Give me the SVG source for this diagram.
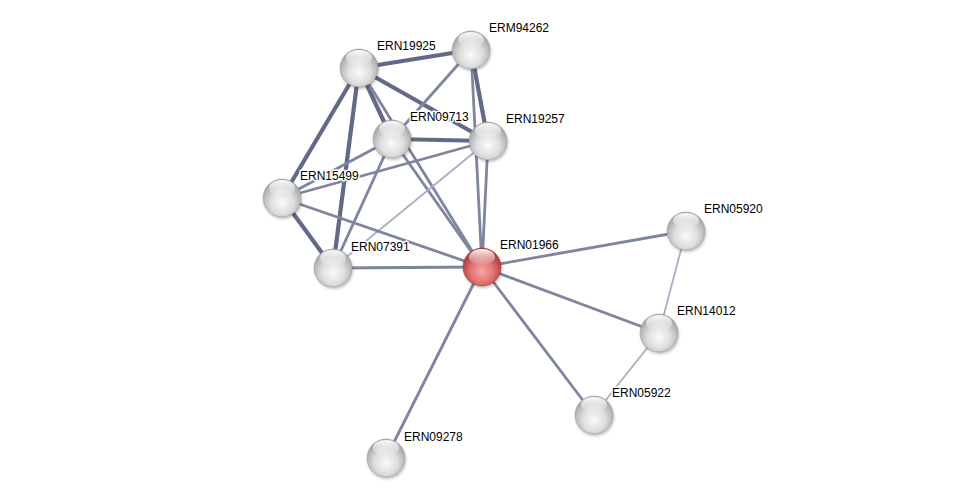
<svg xmlns="http://www.w3.org/2000/svg" width="975" height="504" viewBox="0 0 975 504">
<defs>
<radialGradient id="gray" cx="50%" cy="62%" r="55%">
<stop offset="0" stop-color="#fafafa"/>
<stop offset="0.55" stop-color="#dedede"/>
<stop offset="1" stop-color="#a9a9a9"/>
</radialGradient>
<radialGradient id="red" cx="50%" cy="62%" r="55%">
<stop offset="0" stop-color="#f6a8a8"/>
<stop offset="0.55" stop-color="#e27272"/>
<stop offset="1" stop-color="#b03a3a"/>
</radialGradient>
<linearGradient id="hl" x1="0" y1="0" x2="0" y2="1">
<stop offset="0" stop-color="#ffffff" stop-opacity="0.95"/>
<stop offset="1" stop-color="#ffffff" stop-opacity="0.05"/>
</linearGradient>
<filter id="sh" x="-50%" y="-50%" width="200%" height="200%">
<feGaussianBlur stdDeviation="1.5"/>
</filter>
<g id="ball">
<circle cx="1" cy="2" r="19" fill="#000" opacity="0.25" filter="url(#sh)"/>
<circle r="19" fill="url(#gray)" stroke="#9a9a9a" stroke-width="0.5"/>
<ellipse cx="0" cy="-10" rx="13" ry="8" fill="url(#hl)"/>
</g>
<g id="rball">
<circle cx="1" cy="2" r="19" fill="#000" opacity="0.25" filter="url(#sh)"/>
<circle r="19" fill="url(#red)" stroke="#a03030" stroke-width="0.5"/>
<ellipse cx="0" cy="-10" rx="13" ry="8" fill="url(#hl)"/>
</g>
</defs>
<style>
.e{stroke-linecap:butt;fill:none}
.t{stroke:#626a88;stroke-width:4.2}
.m{stroke:#7e859f;stroke-width:2.8}
.l{stroke:#a8aec2;stroke-width:1.8}
text{font-family:"Liberation Sans",Arial,sans-serif;font-size:12px;fill:#000;stroke:#fff;stroke-width:3;paint-order:stroke;stroke-linejoin:round}
</style>
<rect width="975" height="504" fill="#fff"/>
<g id="edges" class="e">
<line class="t" x1="359" y1="68" x2="471" y2="50"/>
<line class="t" x1="359" y1="68" x2="488" y2="141"/>
<line class="t" x1="359" y1="68" x2="392" y2="139"/>
<line class="t" x1="359" y1="68" x2="282" y2="198"/>
<line class="t" x1="359" y1="68" x2="333" y2="268"/>
<line class="m" x1="359" y1="68" x2="482" y2="267"/>
<line class="m" x1="471" y1="50" x2="392" y2="139"/>
<line class="t" x1="471" y1="50" x2="488" y2="141"/>
<line class="m" x1="471" y1="50" x2="482" y2="267"/>
<line class="t" x1="392" y1="139" x2="488" y2="141"/>
<line class="m" x1="392" y1="139" x2="282" y2="198"/>
<line class="m" x1="392" y1="139" x2="333" y2="268"/>
<line class="m" x1="392" y1="139" x2="482" y2="267"/>
<line class="m" x1="488" y1="141" x2="282" y2="198"/>
<line class="l" x1="488" y1="141" x2="333" y2="268"/>
<line class="m" x1="488" y1="141" x2="482" y2="267"/>
<line class="t" x1="282" y1="198" x2="333" y2="268"/>
<line class="m" x1="282" y1="198" x2="482" y2="267"/>
<line class="m" x1="333" y1="268" x2="482" y2="267"/>
<line class="m" x1="482" y1="267" x2="686" y2="231"/>
<line class="m" x1="482" y1="267" x2="659" y2="333"/>
<line class="m" x1="482" y1="267" x2="594" y2="415"/>
<line class="m" x1="482" y1="267" x2="386" y2="458"/>
<line class="l" x1="686" y1="231" x2="659" y2="333"/>
<line class="l" x1="659" y1="333" x2="594" y2="415"/>
</g>
<g id="ERN19925"><use href="#ball" x="359" y="68"/><text x="377" y="50">ERN19925</text></g>
<g id="ERM94262"><use href="#ball" x="471" y="50"/><text x="489" y="32">ERM94262</text></g>
<g id="ERN09713"><use href="#ball" x="392" y="139"/><text x="410" y="121">ERN09713</text></g>
<g id="ERN19257"><use href="#ball" x="488" y="141"/><text x="506" y="123">ERN19257</text></g>
<g id="ERN15499"><use href="#ball" x="282" y="198"/><text x="300" y="180">ERN15499</text></g>
<g id="ERN07391"><use href="#ball" x="333" y="268"/><text x="351" y="251">ERN07391</text></g>
<g id="ERN01966"><use href="#rball" x="482" y="267"/><text x="500" y="249">ERN01966</text></g>
<g id="ERN05920"><use href="#ball" x="686" y="231"/><text x="704" y="213">ERN05920</text></g>
<g id="ERN14012"><use href="#ball" x="659" y="333"/><text x="677" y="315">ERN14012</text></g>
<g id="ERN05922"><use href="#ball" x="594" y="415"/><text x="612" y="397">ERN05922</text></g>
<g id="ERN09278"><use href="#ball" x="386" y="458"/><text x="404" y="441">ERN09278</text></g>
</svg>
